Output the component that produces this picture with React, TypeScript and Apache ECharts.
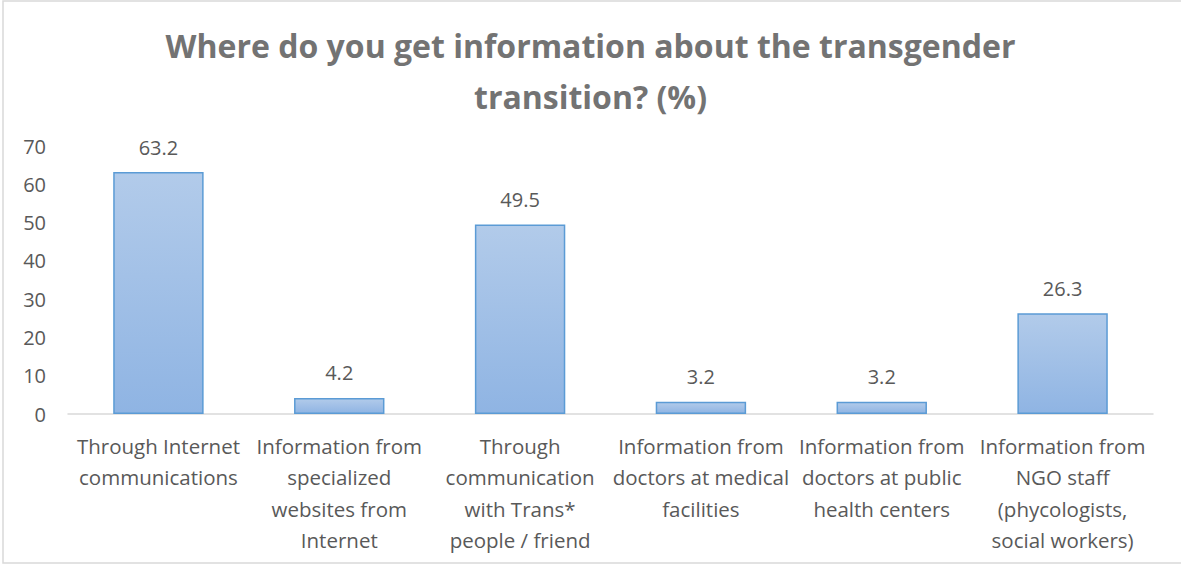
import React, { useEffect, useRef } from "react";
import * as echarts from "echarts";

const categories = [
  "Through Internet\ncommunications",
  "Information from\nspecialized\nwebsites from\nInternet",
  "Through\ncommunication\nwith Trans*\npeople / friend",
  "Information from\ndoctors at medical\nfacilities",
  "Information from\ndoctors at public\nhealth centers",
  "Information from\nNGO staff\n(phycologists,\nsocial workers)",
];
const values = [63.2, 4.2, 49.5, 3.2, 3.2, 26.3];
const titleText = "Where do you get information about the transgender\ntransition? (%)";
const yMin = 0;
const yMax = 70;
const yInterval = 10;

export default function App() {
  const ref = useRef<HTMLDivElement>(null);
  useEffect(() => {
    if (!ref.current) return;
    const chart = echarts.init(ref.current, undefined, { renderer: "svg" });
    const font = "'Open Sans', 'Liberation Sans', sans-serif";
    chart.setOption({
      animation: false,
      backgroundColor: "#ffffff",
      title: {
        text: titleText,
        left: "center",
        top: 15,
        textStyle: {
          fontFamily: font,
          fontSize: 32,
          fontWeight: "bold",
          color: "#737373",
          lineHeight: 51,
        },
      },
      graphic: [
        {
          type: "rect",
          shape: { x: 3, y: 1, width: 1190, height: 562 },
          style: { fill: "none", stroke: "#d9d9d9", lineWidth: 1.5 },
          silent: true,
        },
      ],
      grid: { left: 68, right: 28, top: 146, bottom: 151 },
      xAxis: {
        type: "category",
        data: categories,
        axisLine: { lineStyle: { color: "#d9d9d9", width: 1.5 } },
        axisTick: { show: false },
        axisLabel: {
          interval: 0,
          fontFamily: font,
          fontSize: 20.5,
          color: "#595959",
          lineHeight: 31.5,
          margin: 16,
        },
      },
      yAxis: {
        type: "value",
        min: yMin,
        max: yMax,
        interval: yInterval,
        splitLine: { show: false },
        axisLine: { show: false },
        axisTick: { show: false },
        axisLabel: {
          fontFamily: font,
          fontSize: 20,
          color: "#595959",
          margin: 22,
        },
      },
      series: [
        {
          type: "bar",
          data: values,
          barWidth: "50%",
          itemStyle: {
            color: new echarts.graphic.LinearGradient(0, 0, 0, 1, [
              { offset: 0, color: "#b2cbea" },
              { offset: 1, color: "#8fb4e3" },
            ]),
            borderColor: "#5b9bd5",
            borderWidth: 1.5,
          },
          label: {
            show: true,
            position: "top",
            distance: 15,
            fontFamily: font,
            fontSize: 20,
            color: "#595959",
            formatter: (p: any) => p.value.toFixed(1),
          },
        },
      ],
    });
    return () => chart.dispose();
  }, []);
  return (
    <div
      ref={ref}
      style={{ position: "fixed", left: 0, top: 0, width: 1181, height: 565 }}
    />
  );
}
